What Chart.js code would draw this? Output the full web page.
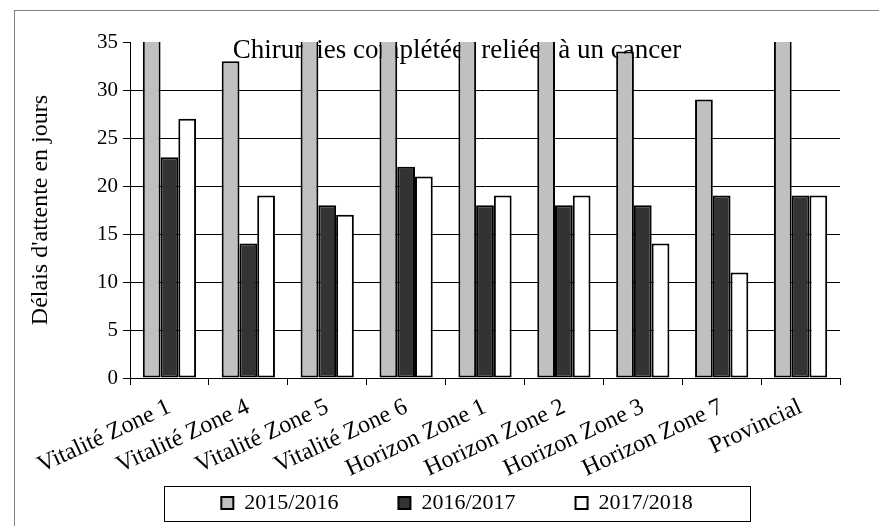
<!DOCTYPE html>
<html>
<head>
<meta charset="utf-8">
<script src="https://cdn.jsdelivr.net/npm/chart.js@4"></script>
<style>
    body { margin: 0; background: #fff; }
    #chartCanvas { display: block; }
</style>
</head>
<body>
<canvas id="chartCanvas" width="879" height="526"></canvas>
<script>
const categories = ['Vitalité Zone 1', 'Vitalité Zone 4', 'Vitalité Zone 5', 'Vitalité Zone 6',
    'Horizon Zone 1', 'Horizon Zone 2', 'Horizon Zone 3', 'Horizon Zone 7', 'Provincial'];
const seriesNames = ['2015/2016', '2016/2017', '2017/2018'];
// bars at 40 run past the top of the axis (35) in the picture
const values2015 = [40, 33, 40, 40, 40, 40, 34, 29, 40];
const values2016 = [23, 14, 18, 22, 18, 18, 18, 19, 19];
const values2017 = [27, 19, 17, 21, 19, 19, 14, 11, 19];
const yMin = 0;
const yMax = 35;
const yStep = 5;
const chartTitle = 'Chirurgies complétées reliées à un cancer';
const yTitle = "Délais d'attente en jours";

const seriesColors = ['#c0c0c0', '#333333', '#ffffff'];
const serif = '"Liberation Serif", "DejaVu Serif", serif';

Chart.defaults.font.family = serif;
Chart.defaults.color = '#000';

const framePlugin = {
    id: 'frame',
    beforeDraw(chart) {
        const ctx = chart.ctx;
        ctx.save();
        ctx.fillStyle = '#fff';
        ctx.fillRect(0, 0, chart.width, chart.height);
        ctx.strokeStyle = '#808080';
        ctx.lineWidth = 1;
        ctx.strokeRect(14.5, 10.5, 1000, 1000);
        ctx.restore();
    },
    afterLayout(chart) {
        // legend centred under the plot like the original
        const lg = chart.legend;
        const dx = 457 - (lg.left + lg.right) / 2;
        lg.left += dx;
        lg.right += dx;
        lg.top -= 2;
        lg.bottom -= 2;
        // let the rotated category labels hang below the axis box without being clipped
        const xs = chart.scales.x;
        xs.bottom = chart.height;
        xs.height = xs.bottom - xs.top;
    },
    beforeDatasetsDraw(chart) {
        const ctx = chart.ctx;
        ctx.save();
        ctx.font = '27px ' + serif;
        ctx.fillStyle = '#000';
        ctx.textAlign = 'center';
        ctx.textBaseline = 'alphabetic';
        ctx.fillText(chartTitle, 457, 58);
        ctx.restore();
    },
    afterDraw(chart) {
        const lg = chart.legend;
        const hb = lg.legendHitBoxes;
        if (!hb || !hb.length) return;
        const cx = (lg.left + lg.right) / 2;
        const cy = hb[0].top + hb[0].height / 2;
        const ctx = chart.ctx;
        ctx.save();
        ctx.strokeStyle = '#000';
        ctx.lineWidth = 1;
        ctx.strokeRect(Math.round(cx - 293) + 0.5, Math.round(cy - 17.5) + 0.5, 586, 35);
        ctx.restore();
    }
};

const chartCanvas = document.getElementById('chartCanvas');
const ctx = chartCanvas.getContext('2d');

const data = {
    labels: categories,
    datasets: [
        { label: seriesNames[0], data: values2015, backgroundColor: seriesColors[0] },
        { label: seriesNames[1], data: values2016, backgroundColor: seriesColors[1] },
        { label: seriesNames[2], data: values2017, backgroundColor: seriesColors[2] }
    ].map(ds => Object.assign(ds, {
        borderColor: '#000',
        borderWidth: 2,
        borderSkipped: false,
        barPercentage: 1,
        categoryPercentage: 0.675
    }))
};

const config = {
    type: 'bar',
    data: data,
    options: {
        responsive: false,
        maintainAspectRatio: false,
        animation: false,
        layout: { padding: { left: 0, right: 39, top: 42, bottom: 0 } },
        scales: {
            x: {
                afterFit(scale) { scale.height = 56; },
                grid: { offset: true, drawOnChartArea: false, drawTicks: true, tickLength: 7, color: '#000' },
                border: { display: true, color: '#000', width: 1 },
                ticks: {
                    font: { size: 24 },
                    minRotation: 25,
                    maxRotation: 25,
                    autoSkip: false,
                    padding: 8
                }
            },
            y: {
                min: yMin,
                max: yMax,
                afterFit(scale) { scale.width = 130; },
                grid: {
                    color: c => (c.tick && c.tick.value === yMax) ? 'rgba(0,0,0,0)' : '#000',
                    tickColor: '#000',
                    tickLength: 7,
                    lineWidth: 1
                },
                border: { display: true, color: '#000', width: 1 },
                ticks: { stepSize: yStep, font: { size: 21 }, padding: 5 },
                title: {
                    display: true,
                    text: yTitle,
                    font: { size: 24 },
                    padding: { top: 26, bottom: 0 }
                }
            }
        },
        plugins: {
            legend: {
                position: 'bottom',
                labels: {
                    boxWidth: 12,
                    boxHeight: 12,
                    padding: 60,
                    font: { size: 22 },
                    color: '#000'
                }
            },
            title: { display: false },
            tooltip: { enabled: false }
        }
    },
    plugins: [framePlugin]
};

window.myChart = new Chart(ctx, config);
</script>
</body>
</html>
